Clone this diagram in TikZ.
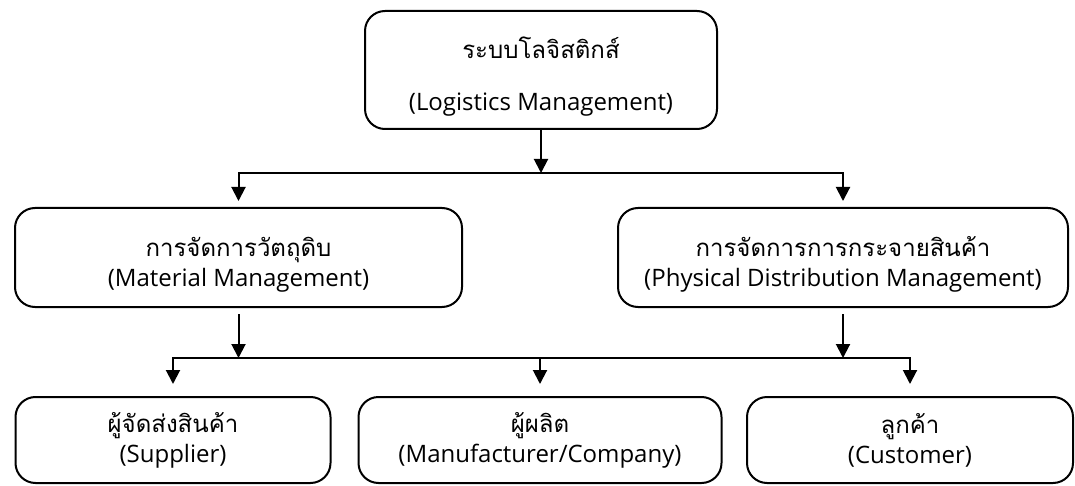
\documentclass[tikz,border=0pt]{standalone}
\usepackage{fontspec}
\setmainfont{Open Sans}
\newfontfamily\thaifont[Script=Thai]{Loma}
\usetikzlibrary{arrows.meta, positioning}

\begin{document}
\begin{tikzpicture}[x=0.5pt, y=-0.5pt, >={Triangle[length=7pt, width=7pt]},
    box/.style={draw, line width=1pt, rounded corners=10pt, align=center, inner sep=0pt,
                font=\fontsize{12}{15}\selectfont},
    link/.style={line width=1pt}]
    \useasboundingbox (0,0) rectangle (1075,486);

    % top level
    \node[box, minimum width=176pt, minimum height=59pt] (logis) at (541,70)
        {\rule{0pt}{17pt}{\thaifont ระบบโลจิสติกส์}\\[11pt](Logistics Management)};

    % second level
    \node[box, minimum width=223.5pt, minimum height=49.5pt] (matl) at (238.5,257.5)
        {\rule{0pt}{17pt}{\thaifont การจัดการวัตถุดิบ}\\(Material Management)};
    \node[box, minimum width=225pt, minimum height=49.5pt] (phys) at (843,257.5)
        {\rule{0pt}{17pt}{\thaifont การจัดการการกระจายสินค้า}\\(Physical Distribution Management)};

    % third level
    \node[box, minimum width=157.5pt, minimum height=43pt] (supp) at (173,440)
        {{\thaifont ผู้จัดส่งสินค้า}\\(Supplier)};
    \node[box, minimum width=181.5pt, minimum height=43pt] (manu) at (540,440)
        {{\thaifont ผู้ผลิต}\\(Manufacturer/Company)};
    \node[box, minimum width=163pt, minimum height=43pt] (cust) at (910,440)
        {{\thaifont ลูกค้า}\\(Customer)};

    \coordinate (hub) at (541,173);
    \coordinate (bus) at (540,358);

    \draw[link, ->] (logis.south) -- (hub);
    \draw[link, ->, shorten >=3pt] (hub) -| (matl.north);
    \draw[link, ->, shorten >=3pt] (hub) -| (phys.north);

    \draw[link, ->, shorten <=3pt] (matl.south) -- (matl.south |- bus);
    \draw[link, ->, shorten <=3pt] (phys.south) -- (phys.south |- bus);
    \draw[link, ->, shorten >=6pt] (bus) -| (supp.north);
    \draw[link, ->, shorten >=6pt] (bus) -- (manu.north);
    \draw[link, ->, shorten >=6pt] (bus) -| (cust.north);
\end{tikzpicture}
\end{document}
